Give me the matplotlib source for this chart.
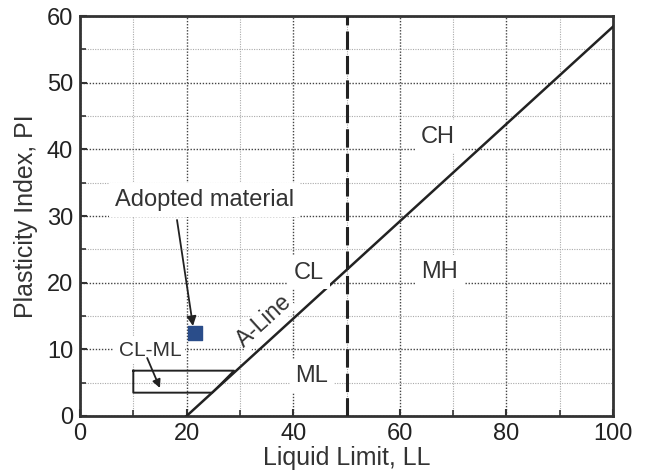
import matplotlib
matplotlib.use("Agg")
import matplotlib.pyplot as plt
import numpy as np

plt.rcParams['font.family'] = ['Liberation Sans', 'DejaVu Sans']

# Data
a_line_ll = [20, 100]
a_line_pi = [0.73 * (v - 20) for v in a_line_ll]
ll_boundary = 50
clml_ll = [10, 28.9, 24.8, 10, 10]
clml_pi = [6.8, 6.8, 3.5, 3.5, 6.8]
adopted_ll = [21.6]
adopted_pi = [12.4]
zone_labels = ["CH", "MH", "CL", "ML"]
zone_ll = [67.2, 67.5, 43.0, 43.5]
zone_pi = [41.9, 21.6, 21.5, 6.0]

fig = plt.figure(figsize=(6.49, 4.75), dpi=100)
ax = fig.add_axes([80/649, 59/475, 533/649, 400/475])
ax.set_xlim(0, 100)
ax.set_ylim(0, 60)
ax.set_xticks(np.arange(0, 101, 20))
ax.set_xticks(np.arange(10, 100, 20), minor=True)
ax.set_yticks(np.arange(0, 61, 10))
ax.set_yticks(np.arange(5, 60, 10), minor=True)
ax.grid(which='major', linestyle=(0, (1, 1.2)), color='#444444', linewidth=1.0, zorder=0)
ax.grid(which='minor', linestyle=(0, (1, 1.2)), color='#aaaaaa', linewidth=0.8, zorder=0)
ax.tick_params(which='both', direction='in', color='#333333', labelcolor='#222222', labelsize=17)
ax.tick_params(which='major', length=5, width=1.5, pad=5)
ax.tick_params(which='minor', length=4, width=1.2)
for s in ax.spines.values():
    s.set_linewidth(2.0)
    s.set_color('#333333')

ax.plot(a_line_ll, a_line_pi, color='#222222', lw=1.8, zorder=3)
ax.axvline(ll_boundary, color='#222222', lw=2.2, linestyle=(0, (6, 2)), zorder=3)
ax.plot(clml_ll, clml_pi, color='#222222', lw=1.4, zorder=3)
ax.scatter(adopted_ll, adopted_pi, marker='s', s=90, color='#2a4d8a', zorder=5)

bbox = dict(facecolor='white', edgecolor='none', pad=4)
for t, x, y in zip(zone_labels, zone_ll, zone_pi):
    ax.text(x, y, t, fontsize=17, color='#333333', ha='center', va='center', bbox=bbox, zorder=4)

ax.text(34.6, 14.2, "A-Line", fontsize=16.5, color='#333333', ha='center', va='center',
        rotation=42.4, rotation_mode='anchor', bbox=dict(facecolor='white', edgecolor='none', pad=0.5), zorder=4)

ax.text(23.4, 32.4, "Adopted material", fontsize=17, color='#333333', ha='center', va='center',
        bbox=bbox, zorder=6)
ax.annotate("", xy=(21.2, 13.5), xytext=(18.2, 29.4),
            arrowprops=dict(arrowstyle='-|>', color='#222222', lw=1.3, shrinkA=0, shrinkB=0,
                            mutation_scale=14), zorder=6)
ax.text(13.1, 9.9, "CL-ML", fontsize=15, color='#333333', ha='center', va='center',
        bbox=dict(facecolor='white', edgecolor='none', pad=3), zorder=6)
ax.annotate("", xy=(15.0, 4.2), xytext=(12.6, 8.7),
            arrowprops=dict(arrowstyle='-|>', color='#222222', lw=1.3, shrinkA=0, shrinkB=0,
                            mutation_scale=12), zorder=6)

ax.set_xlabel("Liquid Limit, LL", fontsize=18, color='#333333', labelpad=1)
ax.set_ylabel("Plasticity Index, PI", fontsize=18, color='#333333', labelpad=6)

fig.savefig("out.png", dpi=100)
